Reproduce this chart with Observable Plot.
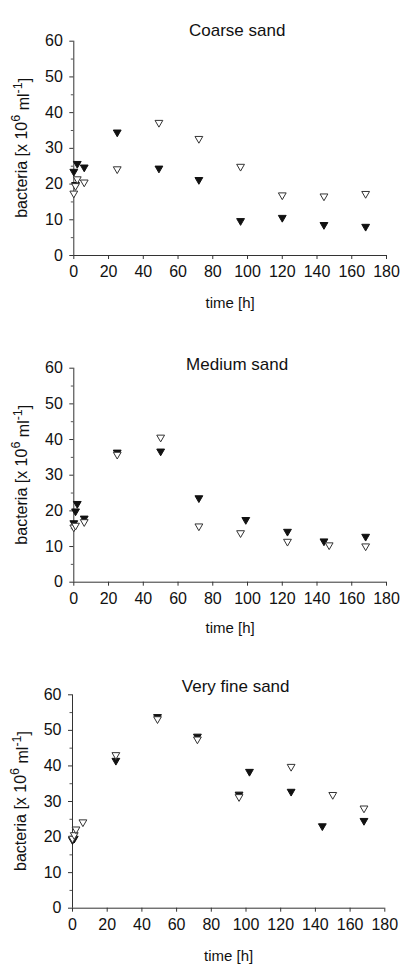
<!DOCTYPE html>
<html>
<head>
<meta charset="utf-8">
<script src="https://cdn.jsdelivr.net/npm/d3@7"></script>
<script src="https://cdn.jsdelivr.net/npm/@observablehq/plot@0.6"></script>
<style>
  body { margin: 0; background: #fff; }
  #charts svg { display: block; }
</style>
</head>
<body>
<div id="charts"></div>
<script>
// Bacterial counts (x 10^6 per ml) over time in three sediment grain sizes.
const panelTitles = ["Coarse sand", "Medium sand", "Very fine sand"];

// Coarse sand
const coarseFilledTime  = [0, 1, 2, 6, 25, 49, 72, 96, 120, 144, 168];
const coarseFilledCount = [23.5, 19.8, 25.7, 24.7, 34.5, 24.4, 21.2, 9.7, 10.6, 8.6, 8.1];
const coarseOpenTime    = [0, 1, 2, 6, 25, 49, 72, 96, 120, 144, 168];
const coarseOpenCount   = [17.4, 19.5, 21.4, 20.5, 24.2, 37.2, 32.7, 24.9, 16.9, 16.6, 17.3];

// Medium sand
const mediumFilledTime  = [0, 1, 2, 6, 25, 50, 72, 99, 123, 144, 168];
const mediumFilledCount = [16.6, 19.9, 22.0, 17.9, 36.4, 36.7, 23.6, 17.5, 14.2, 11.5, 12.8];
const mediumOpenTime    = [0, 1, 6, 25, 50, 72, 96, 123, 147, 168];
const mediumOpenCount   = [15.4, 15.9, 16.9, 35.8, 40.6, 15.7, 13.8, 11.4, 10.4, 10.1];

// Very fine sand
const fineFilledTime  = [0, 1, 25, 49, 72, 96, 102, 126, 144, 168];
const fineFilledCount = [19.2, 19.6, 41.5, 53.8, 48.3, 32.0, 38.4, 32.8, 23.1, 24.6];
const fineOpenTime    = [0, 1, 2, 6, 25, 49, 72, 96, 126, 150, 168];
const fineOpenCount   = [19.6, 20.6, 22.2, 24.2, 43.1, 53.2, 47.5, 31.3, 39.8, 31.9, 28.1];

// Axis ticks
const xTicks = [0, 20, 40, 60, 80, 100, 120, 140, 160, 180];
const yTicks = [0, 10, 20, 30, 40, 50, 60];
const yMinorTicks = [5, 15, 25, 35, 45, 55];

const font = '"Liberation Sans", Arial, Helvetica, sans-serif';
const zip = (t, v) => t.map((d, i) => ({t: d, v: v[i]}));

function panel(title, filled, open, m) {
  const chart = Plot.plot({
    width: 404,
    height: m.height,
    marginTop: m.top,
    marginBottom: m.height - m.top - m.plotH,
    marginLeft: m.left,
    marginRight: 404 - m.right,
    x: {domain: [0, 180]},
    y: {domain: [0, 60]},
    style: {fontFamily: font, fontSize: "16px", color: "#111", background: "#fff", overflow: "visible"},
    marks: [
      Plot.ruleX([0], {y1: 0, y2: 60, stroke: "#333", strokeWidth: 1}),
      Plot.ruleY([0], {x1: 0, x2: 180, stroke: "#333", strokeWidth: 1}),
      Plot.axisY(yMinorTicks, {tickSize: 2.5, tickFormat: () => "", label: null, stroke: "#555"}),
      Plot.axisY(yTicks, {tickSize: 4, tickPadding: 7, label: null, stroke: "#333"}),
      Plot.axisX(xTicks, {tickSize: 4, tickPadding: 6, label: null, stroke: "#333"}),
      Plot.dot(filled, {x: "t", y: "v", symbol: "triangle", rotate: 180, r: 2.9,
        fill: "#111", stroke: "#111", strokeWidth: 1}),
      Plot.dot(open, {x: "t", y: "v", symbol: "triangle", rotate: 180, r: 2.9,
        fill: "#fff", stroke: "#333", strokeWidth: 1}),
      Plot.text([title], {frameAnchor: "top", dy: m.titleDy, dx: m.titleDx, fontSize: 17, fill: "#111"}),
      Plot.text(["time [h]"], {frameAnchor: "bottom", dy: m.xLabelDy, fontSize: 15, fill: "#111"})
    ]
  });

  // Rotated y-axis label with superscript exponents
  const yc = chart.scale("y").apply(30);
  const label = d3.select(chart).append("text")
    .attr("transform", `translate(${m.yLabelX},${yc}) rotate(-90)`)
    .attr("text-anchor", "middle")
    .attr("dominant-baseline", "middle")
    .attr("font-family", font)
    .attr("font-size", 16)
    .attr("fill", "#111");
  label.append("tspan").text("bacteria [x 10");
  label.append("tspan").attr("dy", "-0.45em").attr("font-size", "0.78em").text("6");
  label.append("tspan").attr("dy", "0.45em").text(" ml");
  label.append("tspan").attr("dy", "-0.45em").attr("font-size", "0.78em").text("-1");
  label.append("tspan").attr("dy", "0.45em").text("]");

  document.getElementById("charts").append(chart);
}

panel(panelTitles[0], zip(coarseFilledTime, coarseFilledCount), zip(coarseOpenTime, coarseOpenCount),
  {height: 326, top: 40.7, plotH: 214.3, left: 73.3, right: 386, titleDy: -17.7, titleDx: 7, xLabelDy: 52, yLabelX: 23});
panel(panelTitles[1], zip(mediumFilledTime, mediumFilledCount), zip(mediumOpenTime, mediumOpenCount),
  {height: 326, top: 41.7, plotH: 214, left: 73.3, right: 386, titleDy: -10, titleDx: 7, xLabelDy: 50.5, yLabelX: 23});
panel(panelTitles[2], zip(fineFilledTime, fineFilledCount), zip(fineOpenTime, fineOpenCount),
  {height: 319, top: 42.3, plotH: 213.4, left: 72, right: 384.3, titleDy: -15.3, titleDx: 7, xLabelDy: 52.3, yLabelX: 22});
</script>
</body>
</html>
